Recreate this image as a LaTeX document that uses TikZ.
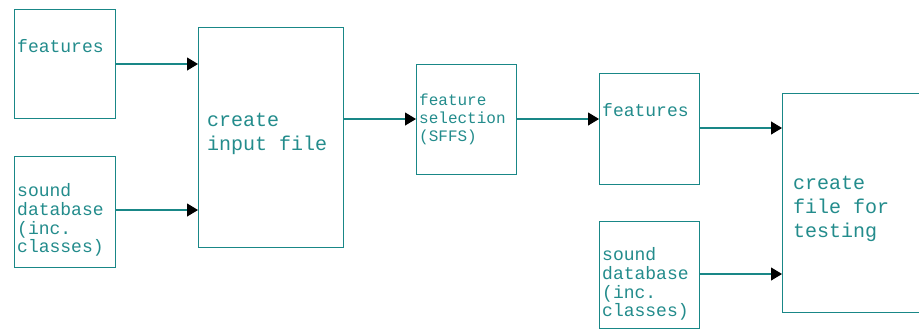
\documentclass[tikz,border=0pt]{standalone}
\usepackage{fontspec}
\newfontfamily\cadfont{Liberation Mono}
\usetikzlibrary{arrows.meta}
\definecolor{cadline}{RGB}{25,135,135}
\definecolor{cadtext}{RGB}{35,140,140}
\definecolor{fringe}{RGB}{250,200,200}
\tikzset{
  blk/.style={draw=cadline, line width=1.2pt, rectangle, inner sep=0pt, anchor=north west,
    preaction={draw=fringe, line width=1pt, transform canvas={shift={(-0.6pt,0.6pt)}}}},
  lbl/.style={text=cadtext, inner sep=0pt, anchor=west, align=left},
  small/.style={lbl, font=\cadfont\fontsize{18}{18.7}\selectfont},
  smaller/.style={lbl, font=\cadfont\fontsize{16}{18}\selectfont},
  large/.style={lbl, font=\cadfont\fontsize{20}{23.8}\selectfont},
  conn/.style={draw=cadline, line width=1.2pt,
    -{Triangle[length=11pt,width=13pt,black]}}
}
\begin{document}
\begin{tikzpicture}[x=1pt,y=-1pt]
\clip (0,0) rectangle (919,330);
\fill[white] (0,0) rectangle (919,330);

% boxes
\node[blk, minimum width=101pt, minimum height=109pt] (feat1) at (14,9) {};
\node[blk, minimum width=101pt, minimum height=111pt] (sdb1) at (14,156) {};
\node[blk, minimum width=145pt, minimum height=220pt] (cif) at (198,27) {};
\node[blk, minimum width=100pt, minimum height=110pt] (fsel) at (416,64) {};
\node[blk, minimum width=100pt, minimum height=111pt] (feat2) at (599,73) {};
\node[blk, minimum width=100pt, minimum height=107pt] (sdb2) at (599,221) {};
\node[blk, minimum width=150pt, minimum height=219pt] (cft) at (782,93) {};

% labels
\node[small] (t1) at (17,46) {features};
\node[small] (t2) at (17,220) {sound\\database\\(inc.\\classes)};
\node[large] (t3) at (207,134) {create\\input file};
\node[smaller] (t4) at (419,119) {feature\\selection\\(SFFS)};
\node[small] (t5) at (602,110) {features};
\node[small] (t6) at (602,284) {sound\\database\\(inc.\\classes)};
\node[large] (t7) at (793,209) {create\\file for\\testing};

% connectors
\draw[conn] (feat1.east |- 0,64) -- (cif.west |- 0,64);
\draw[conn] (sdb1.east |- 0,210) -- (cif.west |- 0,210);
\draw[conn] (cif.east |- 0,119) -- (fsel.west |- 0,119);
\draw[conn] (fsel.east |- 0,119) -- (feat2.west |- 0,119);
\draw[conn] (feat2.east |- 0,128) -- (cft.west |- 0,128);
\draw[conn] (sdb2.east |- 0,274) -- (cft.west |- 0,274);
\end{tikzpicture}
\end{document}
